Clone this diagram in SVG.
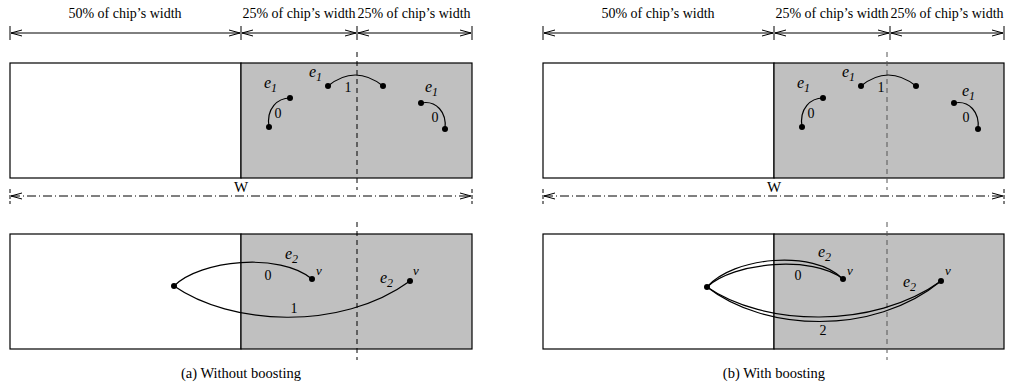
<svg xmlns="http://www.w3.org/2000/svg" width="1013" height="387" viewBox="0 0 1013 387">
<defs>
<marker id="ah" markerUnits="userSpaceOnUse" markerWidth="12" markerHeight="8" refX="11" refY="4" orient="auto-start-reverse">
<path d="M0,1 L11,4 L0,7" fill="none" stroke="#000" stroke-width="1"/>
</marker>
<style>
text{font-family:"Liberation Serif","Times New Roman",serif;fill:#000}
.lbl{font-size:14px;text-anchor:middle}
.cap{font-size:14.5px;text-anchor:middle}
.it{font-style:italic;font-size:16px}
.sub{font-size:12px}
.num{font-size:14px;text-anchor:middle}
.dim{stroke:#000;stroke-width:1;fill:none;marker-start:url(#ah);marker-end:url(#ah)}
.tick{stroke:#000;stroke-width:1}
.wdim{stroke:#000;stroke-width:1;fill:none;stroke-dasharray:9 3 1 3;marker-start:url(#ah);marker-end:url(#ah)}
.wtick{stroke:#000;stroke-width:1;stroke-dasharray:4 2}
.white{fill:#fff;stroke:#000;stroke-width:1.2}
.gray{fill:#c0c0c0;stroke:#000;stroke-width:1.2}
.dash{stroke:#000;stroke-width:1;stroke-dasharray:5 4}
.edge{fill:none;stroke:#000;stroke-width:1.2}
.dot{fill:#000}
</style>
</defs>

<!-- ============ Panel (a) ============ -->
<g id="panel-a">
<g id="a-dimensions">
<text class="lbl" x="125" y="18">50% of chip’s width</text>
<text class="lbl" x="299" y="18">25% of chip’s width</text>
<text class="lbl" x="414" y="18">25% of chip’s width</text>
<line class="tick" x1="10" y1="26" x2="10" y2="40"/>
<line class="tick" x1="241" y1="26" x2="241" y2="40"/>
<line class="tick" x1="357" y1="26" x2="357" y2="40"/>
<line class="tick" x1="472" y1="26" x2="472" y2="40"/>
<line class="dim" x1="11" y1="33" x2="240" y2="33"/>
<line class="dim" x1="242" y1="33" x2="356" y2="33"/>
<line class="dim" x1="358" y1="33" x2="471" y2="33"/>
<line class="wtick" x1="10" y1="189" x2="10" y2="204"/>
<line class="wtick" x1="472" y1="189" x2="472" y2="204"/>
<line class="wdim" x1="11" y1="196" x2="471" y2="196"/>
<text class="lbl" x="241" y="192" style="font-size:15px">W</text>
</g>
<g id="a-top-chip">
<rect class="white" x="10" y="63" width="231" height="115"/>
<rect class="gray" x="241" y="63" width="231" height="115"/>
</g>
<g id="a-bottom-chip">
<rect class="white" x="10" y="234" width="231" height="115"/>
<rect class="gray" x="241" y="234" width="231" height="115"/>
</g>
<line class="dash" x1="357" y1="52" x2="357" y2="190"/>
<line class="dash" x1="357" y1="222" x2="357" y2="360"/>

<g id="a-connectors">
<path class="edge" d="M290,98 C278,98 266,108 269,127"/>
<path class="edge" d="M328,86 Q355,64 383,86"/>
<path class="edge" d="M421,103 C436,100 447,112 445,129"/>
<path class="edge" d="M174,286 C200,260 280,252 312,279"/>
<path class="edge" d="M174,286 C230,325 340,332 410,281"/>
</g>
<g id="a-nodes">
<circle class="dot" cx="290" cy="98" r="3"/>
<circle class="dot" cx="269" cy="127" r="3"/>
<circle class="dot" cx="328" cy="86" r="3"/>
<circle class="dot" cx="383" cy="86" r="3"/>
<circle class="dot" cx="421" cy="103" r="3"/>
<circle class="dot" cx="445" cy="129" r="3"/>
<circle class="dot" cx="174" cy="286" r="3"/>
<circle class="dot" cx="312" cy="279" r="3"/>
<circle class="dot" cx="410" cy="281" r="3"/>
</g>
<g id="a-labels">
<text class="it" x="264" y="88">e<tspan class="sub" dy="4">1</tspan></text>
<text class="num" x="278" y="118">0</text>
<text class="it" x="309" y="77">e<tspan class="sub" dy="4">1</tspan></text>
<text class="num" x="348" y="92">1</text>
<text class="it" x="425" y="92">e<tspan class="sub" dy="4">1</tspan></text>
<text class="num" x="435" y="122">0</text>
<text class="it" x="285" y="259">e<tspan class="sub" dy="4">2</tspan></text>
<text class="num" x="268" y="280">0</text>
<text class="it" x="316" y="275" style="font-size:13px">v</text>
<text class="it" x="380" y="283">e<tspan class="sub" dy="4">2</tspan></text>
<text class="it" x="413" y="275" style="font-size:13px">v</text>
<text class="num" x="294" y="313">1</text>
</g>
<text class="cap" x="241" y="378">(a) Without boosting</text>
</g>

<!-- ============ Panel (b) ============ -->
<g id="panel-b">
<g id="b-dimensions">
<text class="lbl" x="658" y="18">50% of chip’s width</text>
<text class="lbl" x="832" y="18">25% of chip’s width</text>
<text class="lbl" x="947" y="18">25% of chip’s width</text>
<line class="tick" x1="543" y1="26" x2="543" y2="40"/>
<line class="tick" x1="774" y1="26" x2="774" y2="40"/>
<line class="tick" x1="890" y1="26" x2="890" y2="40"/>
<line class="tick" x1="1004" y1="26" x2="1004" y2="40"/>
<line class="dim" x1="544" y1="33" x2="773" y2="33"/>
<line class="dim" x1="775" y1="33" x2="889" y2="33"/>
<line class="dim" x1="891" y1="33" x2="1003" y2="33"/>
<line class="wtick" x1="543" y1="189" x2="543" y2="204"/>
<line class="wtick" x1="1004" y1="189" x2="1004" y2="204"/>
<line class="wdim" x1="544" y1="196" x2="1003" y2="196"/>
<text class="lbl" x="774" y="192" style="font-size:15px">W</text>
</g>
<g id="b-top-chip">
<rect class="white" x="543" y="63" width="231" height="115"/>
<rect class="gray" x="774" y="63" width="230" height="115"/>
</g>
<g id="b-bottom-chip">
<rect class="white" x="543" y="234" width="231" height="115"/>
<rect class="gray" x="774" y="234" width="230" height="115"/>
</g>
<line class="dash" x1="887" y1="52" x2="887" y2="190" style="stroke:#555"/>
<line class="dash" x1="887" y1="222" x2="887" y2="360" style="stroke:#555"/>

<g id="b-connectors">
<path class="edge" d="M823,98 C811,98 799,108 802,127"/>
<path class="edge" d="M861,86 Q888,64 916,86"/>
<path class="edge" d="M954,103 C969,100 980,112 978,129"/>
<path class="edge" d="M707,287 C733,257 813,249 843,279"/>
<path class="edge" d="M707,287 C733,262 813,255 843,279"/>
<path class="edge" d="M707,287 C763,326 873,330 941,281"/>
<path class="edge" d="M707,287 C763,331 873,337 941,281"/>
</g>
<g id="b-nodes">
<circle class="dot" cx="823" cy="98" r="3"/>
<circle class="dot" cx="802" cy="127" r="3"/>
<circle class="dot" cx="861" cy="86" r="3"/>
<circle class="dot" cx="916" cy="86" r="3"/>
<circle class="dot" cx="954" cy="103" r="3"/>
<circle class="dot" cx="978" cy="129" r="3"/>
<circle class="dot" cx="707" cy="287" r="3"/>
<circle class="dot" cx="843" cy="279" r="3"/>
<circle class="dot" cx="941" cy="281" r="3"/>
</g>
<g id="b-labels">
<text class="it" x="797" y="88">e<tspan class="sub" dy="4">1</tspan></text>
<text class="num" x="811" y="118">0</text>
<text class="it" x="842" y="77">e<tspan class="sub" dy="4">1</tspan></text>
<text class="num" x="881" y="92">1</text>
<text class="it" x="962" y="96">e<tspan class="sub" dy="4">1</tspan></text>
<text class="num" x="966" y="122">0</text>
<text class="it" x="818" y="257">e<tspan class="sub" dy="4">2</tspan></text>
<text class="num" x="798" y="280">0</text>
<text class="it" x="847" y="275" style="font-size:13px">v</text>
<text class="it" x="903" y="287">e<tspan class="sub" dy="4">2</tspan></text>
<text class="it" x="945" y="275" style="font-size:13px">v</text>
<text class="num" x="823" y="335">2</text>
</g>
<text class="cap" x="774" y="378">(b) With boosting</text>
</g>
</svg>
